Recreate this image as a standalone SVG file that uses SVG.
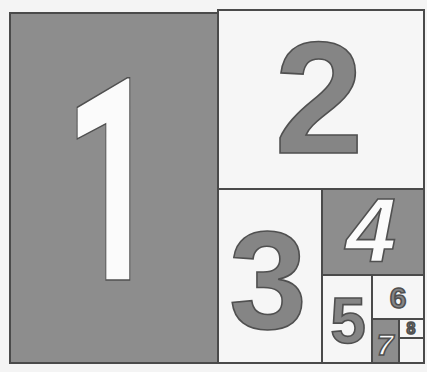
<svg xmlns="http://www.w3.org/2000/svg" width="427" height="372" viewBox="0 0 427 372">
<style>
.dark{fill:#8d8d8d;stroke:#4a4a4a;stroke-width:2}
.light{fill:#f6f6f6;stroke:#4a4a4a;stroke-width:2}
.num{font-family:"Liberation Sans",Arial,sans-serif;font-weight:bold;text-anchor:middle}
.g{fill:#858585;stroke:#505050;stroke-width:1.6}
.w{fill:#fbfbfb;stroke:#505050;stroke-width:1.6}
</style>
<rect x="0" y="0" width="427" height="372" fill="#f4f4f4"/>
<g id="sq1"><rect class="dark" x="10" y="13" width="208" height="350"/>
<text class="num w" x="100" y="280" font-size="284" font-weight="normal" transform="translate(130,0) scale(0.6,1) translate(-130,0)" style="font-family:Roboto,'Open Sans',sans-serif">1</text></g>
<g id="sq2"><rect class="light" x="218" y="10" width="206" height="179"/>
<text class="num g" x="319" y="153" font-size="160">2</text></g>
<g id="sq3"><rect class="light" x="218" y="189" width="104" height="174"/>
<text class="num g" x="268" y="328" font-size="140">3</text></g>
<g id="sq4"><rect class="dark" x="322" y="189" width="102" height="86"/>
<text class="num w" x="371" y="262" font-size="90" font-style="italic" font-weight="normal">4</text></g>
<g id="sq5"><rect class="light" x="322" y="275" width="50" height="88"/>
<text class="num g" x="348" y="343" font-size="64">5</text></g>
<g id="sq6"><rect class="light" x="372" y="275" width="52" height="44"/>
<text class="num g" x="398" y="308" font-size="30">6</text></g>
<g id="sq7"><rect class="dark" x="372" y="319" width="27" height="44"/>
<text class="num w" x="385" y="355" font-size="30" font-style="italic">7</text></g>
<g id="sq8"><rect class="light" x="399" y="319" width="25" height="19"/>
<text class="num g" x="411" y="334" font-size="16">8</text></g>
<g id="sq9"><rect class="light" x="399" y="338" width="25" height="25"/></g>
</svg>
